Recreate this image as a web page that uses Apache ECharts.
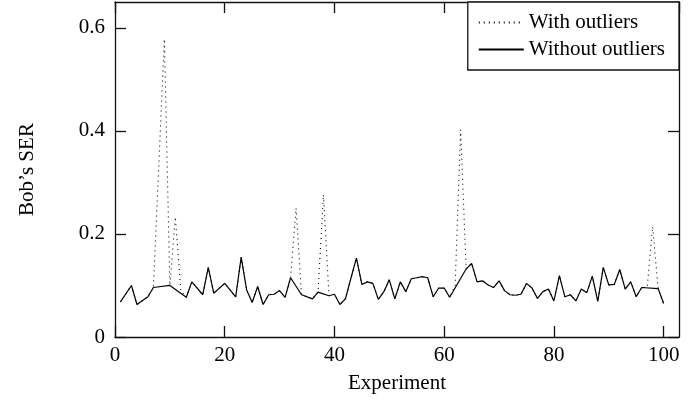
<!DOCTYPE html>
<html>
<head>
<meta charset="utf-8">
<script src="https://cdn.jsdelivr.net/npm/echarts@6/dist/echarts.min.js"></script>
<style>
  html, body { margin: 0; padding: 0; background: #fff; }
  #chart { width: 699px; height: 400px; }
</style>
</head>
<body>
<div id="chart"></div>
<script>
// Symbol error rate per experiment, outliers removed
const cleanX = [1, 3, 4, 6, 7, 10, 13, 14, 16, 17, 18, 20, 22, 23, 24, 25, 26, 27, 28, 29, 30, 31, 32, 34, 36, 37, 39, 40, 41, 42, 43, 44, 45, 46, 47, 48, 49, 50, 51, 52, 53, 54, 55, 56, 57, 58, 59, 60, 61, 64, 65, 66, 67, 68, 69, 70, 71, 72, 73, 74, 75, 76, 77, 78, 79, 80, 81, 82, 83, 84, 85, 86, 87, 88, 89, 90, 91, 92, 93, 94, 95, 96, 99, 100];
const cleanY = [0.068, 0.100, 0.063, 0.078, 0.096, 0.100, 0.077, 0.107, 0.082, 0.135, 0.085, 0.104, 0.078, 0.155, 0.091, 0.067, 0.098, 0.063, 0.082, 0.083, 0.090, 0.077, 0.115, 0.082, 0.074, 0.087, 0.080, 0.083, 0.063, 0.074, 0.114, 0.153, 0.102, 0.107, 0.104, 0.073, 0.088, 0.111, 0.074, 0.107, 0.088, 0.113, 0.115, 0.117, 0.115, 0.078, 0.095, 0.095, 0.077, 0.132, 0.143, 0.107, 0.109, 0.101, 0.096, 0.109, 0.090, 0.082, 0.081, 0.083, 0.104, 0.095, 0.075, 0.088, 0.093, 0.070, 0.119, 0.078, 0.082, 0.070, 0.093, 0.086, 0.118, 0.069, 0.135, 0.101, 0.102, 0.131, 0.093, 0.107, 0.078, 0.096, 0.094, 0.065];

// Experiments that were dropped as outliers
const droppedX = [9, 11, 12, 33, 38, 62, 63, 97, 98];
const droppedY = [0.578, 0.233, 0.090, 0.250, 0.276, 0.100, 0.402, 0.096, 0.214];

const xTicks = [0, 20, 40, 60, 80, 100];
const yTicks = [0, 0.2, 0.4, 0.6];

const cleanPts = cleanX.map((x, i) => [x, cleanY[i]]);
const allPts = cleanPts.concat(droppedX.map((x, i) => [x, droppedY[i]]))
  .sort((a, b) => a[0] - b[0]);

const FONT = 'Liberation Serif';
const txt = () => ({ fontFamily: FONT, fontSize: 21, color: '#000' });
const frame = () => ({ color: '#111', width: 1.3 });

// Frame axes; ticks point inward on all four sides
function xAxisCfg(pos, main) {
  return {
    type: 'value', position: pos, min: 0, max: 102.8, interval: xTicks[1] - xTicks[0],
    axisLine: { show: true, onZero: false, lineStyle: frame() },
    axisTick: { show: true, inside: true, length: 11, lineStyle: frame() },
    axisLabel: Object.assign({ show: main, showMaxLabel: false, margin: 8,
      formatter: v => xTicks.includes(v) ? String(v) : '' }, txt()),
    splitLine: { show: false },
    name: main ? 'Experiment' : '', nameLocation: 'middle', nameGap: 36,
    nameTextStyle: txt()
  };
}
function yAxisCfg(pos, main) {
  return {
    type: 'value', position: pos, min: 0, max: 0.65, interval: 0.2,
    axisLine: { show: true, onZero: false, lineStyle: frame() },
    axisTick: { show: true, inside: true, length: 11, lineStyle: frame() },
    axisLabel: Object.assign({ show: main, showMaxLabel: false, margin: 10,
      formatter: v => yTicks.some(t => Math.abs(t - v) < 1e-9) ? String(+v.toFixed(1)) : '' }, txt()),
    splitLine: { show: false },
    name: main ? 'Bob\u2019s SER' : '', nameLocation: 'middle', nameGap: 77, nameRotate: 90,
    nameTextStyle: txt()
  };
}

const chart = echarts.init(document.getElementById('chart'), null, { renderer: 'canvas' });
chart.setOption({
  animation: false,
  backgroundColor: '#fff',
  grid: { left: 115, right: 20, top: 2, bottom: 63 },
  xAxis: [xAxisCfg('bottom', true), xAxisCfg('top', false)],
  yAxis: [yAxisCfg('left', true), yAxisCfg('right', false)],
  legend: {
    orient: 'vertical', right: 20, top: 2, z: 10,
    backgroundColor: '#fff', borderColor: '#111', borderWidth: 1.3,
    padding: [10, 14, 10, 10], itemGap: 6, itemWidth: 45, itemHeight: 12,
    itemStyle: { opacity: 0 },
    textStyle: txt(),
    data: ['With outliers', 'Without outliers']
  },
  series: [
    {
      name: 'With outliers', type: 'line', data: allPts, symbol: 'none',
      itemStyle: { color: '#000' },
      lineStyle: { color: '#000', width: 1.1, type: [1, 4] }, z: 2
    },
    {
      name: 'Without outliers', type: 'line', data: cleanPts, symbol: 'none',
      itemStyle: { color: '#000' },
      lineStyle: { color: '#000', width: 1.2, type: 'solid' }, z: 3
    }
  ]
});
</script>
</body>
</html>
